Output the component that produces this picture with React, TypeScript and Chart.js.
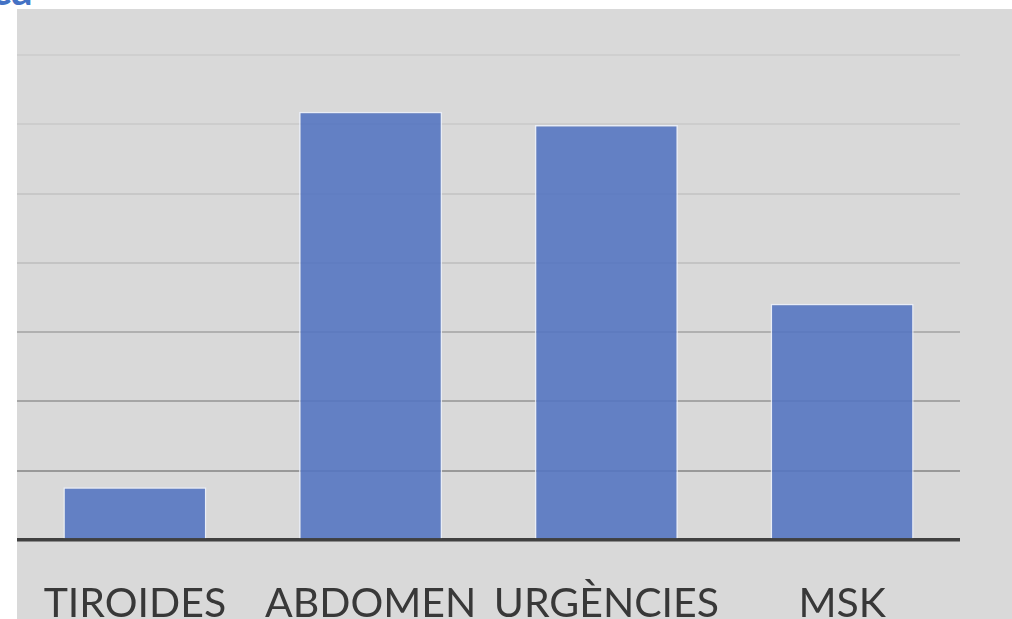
import React, { useEffect, useRef } from "react";
import { Chart, registerables } from "chart.js";

Chart.register(...registerables);

const categories = ["TIROIDES", "ABDOMEN", "URGÈNCIES", "MSK"];
const values = [7.6, 61.8, 59.9, 34.1];
const yMax = 70;
const yStep = 10;

const gridColors: Record<number, string> = {
  0: "#404040",
  10: "#999999",
  20: "#a5a5a5",
  30: "#b0b0b0",
  40: "#c4c4c4",
  50: "#c8c8c8",
  60: "#cdcdcd",
  70: "#cfcfcf",
};

export default function App() {
  const ref = useRef<HTMLCanvasElement>(null);
  useEffect(() => {
    if (!ref.current) return;
    const chart = new Chart(ref.current, {
      type: "bar",
      data: {
        labels: categories,
        datasets: [
          {
            data: values,
            backgroundColor: "rgba(85,118,193,0.9)",
            borderColor: "rgba(235,240,250,0.85)",
            borderWidth: 1.5,
            categoryPercentage: 1,
            barPercentage: 0.607,
          },
        ],
      },
      options: {
        animation: false,
        responsive: false,
        maintainAspectRatio: false,
        layout: { padding: { left: 17, right: 52, top: 55, bottom: 0 } },
        plugins: { legend: { display: false }, tooltip: { enabled: false } },
        scales: {
          x: {
            grid: { display: false, drawTicks: false },
            border: { display: false },
            ticks: {
              color: "#383838",
              font: { family: "Lato", size: 41 },
              padding: 39,
              maxRotation: 0,
              autoSkip: false,
            },
            afterFit: (s: any) => {
              s.height = 120;
            },
          },
          y: {
            min: 0,
            max: yMax,
            ticks: { display: false, stepSize: yStep },
            border: { display: false },
            grid: {
              drawTicks: false,
              color: (c: any) => gridColors[c.tick?.value] ?? "#bbbbbb",
              lineWidth: (c: any) => (c.tick?.value === 0 ? 3.5 : 2),
            },
            afterFit: (s: any) => {
              s.width = 0;
            },
          },
        },
      },
    });
    return () => chart.destroy();
  }, []);
  return (
    <div
      style={{
        position: "fixed",
        left: 0,
        top: 0,
        width: 1012,
        height: 619,
        overflow: "hidden",
        background: "#ffffff",
      }}
    >
      <div
        style={{
          position: "absolute",
          left: -9,
          top: -32,
          fontFamily: "Lato",
          fontWeight: 700,
          fontSize: 42,
          color: "#4472c4",
          lineHeight: "42px",
        }}
      >
        ca
      </div>
      <div
        style={{
          position: "absolute",
          left: 17,
          top: 9,
          width: 995,
          height: 610,
          background: "#d9d9d9",
        }}
      />
      <canvas
        ref={ref}
        width={1012}
        height={660}
        style={{ position: "absolute", left: 0, top: 0, width: 1012, height: 660 }}
      />
    </div>
  );
}
